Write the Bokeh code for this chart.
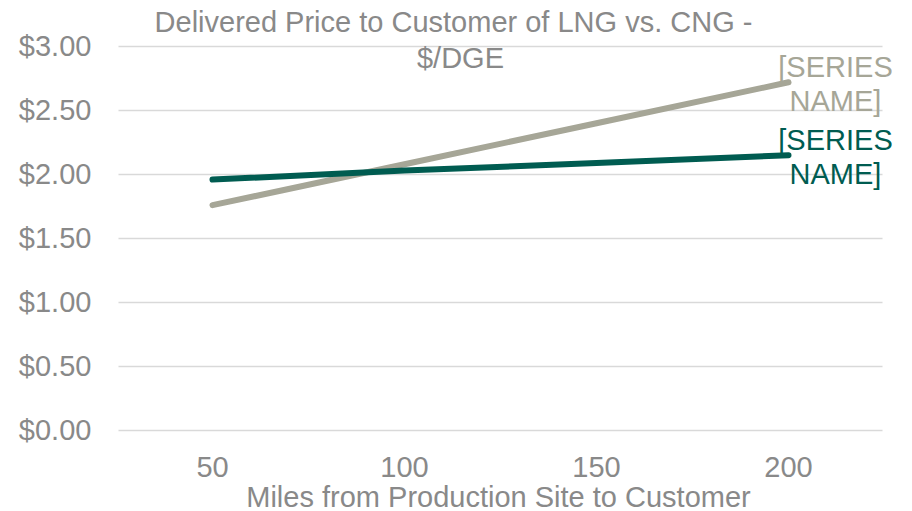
from bokeh.plotting import figure
from bokeh.models import Label, Range1d, NumeralTickFormatter, FixedTicker, LinearAxis, Grid
from bokeh.embed import file_html
from bokeh.resources import INLINE

# ---- data ----
miles = [50, 100, 150, 200]
series_green = [1.96, 2.03, 2.09, 2.15]
series_gray = [1.76, 2.08, 2.40, 2.72]
series_names = ["[SERIES\nNAME]", "[SERIES\nNAME]"]
y_ticks = [0, 0.5, 1.0, 1.5, 2.0, 2.5, 3.0]
x_ticks = [50, 100, 150, 200]
title_lines = ["Delivered Price to Customer of LNG vs. CNG -", "$/DGE"]
x_title = "Miles from Production Site to Customer"

# plot-area extent (category-like padding around the data)
x_lo, x_hi = 25.5, 224.5

FONT = "Liberation Sans"
FS = "29px"
TXT = "#898989"
GRAY = "#A6A697"
GREEN = "#005C51"

W, H = 912, 511
p = figure(width=W, height=H, output_backend="svg", toolbar_location=None,
           x_range=Range1d(-5.21, 232.29), y_range=Range1d(-0.633, 3.359),
           x_axis_location=None, y_axis_location=None,
           min_border=0, min_border_left=0, min_border_right=0,
           min_border_top=0, min_border_bottom=0)
p.outline_line_color = None
p.background_fill_color = "white"
p.border_fill_color = "white"
p.xgrid.visible = False
p.ygrid.visible = False

yaxis = LinearAxis(fixed_location=x_lo, ticker=FixedTicker(ticks=y_ticks),
                   formatter=NumeralTickFormatter(format="$0.00"))
xaxis = LinearAxis(fixed_location=0, ticker=FixedTicker(ticks=x_ticks))
for ax in (xaxis, yaxis):
    ax.axis_line_color = None
    ax.major_tick_line_color = None
    ax.minor_tick_line_color = None
    ax.major_label_text_font = FONT
    ax.major_label_text_font_size = FS
    ax.major_label_text_color = TXT
yaxis.major_label_standoff = 21
xaxis.major_label_standoff = 21
p.add_layout(yaxis, "left")
p.add_layout(xaxis, "below")

# horizontal gridlines limited to the plot area
if "cross_bounds" in Grid.properties():
    g = Grid(dimension=1, ticker=FixedTicker(ticks=y_ticks), cross_bounds=(x_lo, x_hi),
             grid_line_color="#D9D9D9", grid_line_width=1.3)
    p.add_layout(g)
else:
    p.segment(x0=[x_lo] * len(y_ticks), x1=[x_hi] * len(y_ticks), y0=y_ticks, y1=y_ticks,
              line_color="#D9D9D9", line_width=1.3)

p.line(miles, series_gray, line_color=GRAY, line_width=6, line_cap="round")
p.line(miles, series_green, line_color=GREEN, line_width=6, line_cap="round")

# series labels at line ends
for vals, col, name in ((series_gray, GRAY, series_names[0]), (series_green, GREEN, series_names[1])):
    l1, l2 = name.split("\n")
    p.add_layout(Label(x=miles[-1], y=vals[-1], x_offset=47, y_offset=15, text=l1,
                       text_align="center", text_baseline="middle",
                       text_font=FONT, text_font_size=FS, text_color=col))
    p.add_layout(Label(x=miles[-1], y=vals[-1], x_offset=47, y_offset=-19, text=l2,
                       text_align="center", text_baseline="middle",
                       text_font=FONT, text_font_size=FS, text_color=col))

# title (two lines, overlapping plot top)
p.add_layout(Label(x=453, y=H - 21, x_units="screen", y_units="screen", text=title_lines[0],
                   text_align="center", text_baseline="middle",
                   text_font=FONT, text_font_size=FS, text_color=TXT))
p.add_layout(Label(x=460, y=H - 57, x_units="screen", y_units="screen", text=title_lines[1],
                   text_align="center", text_baseline="middle",
                   text_font=FONT, text_font_size=FS, text_color=TXT))

# x axis title
p.add_layout(Label(x=498, y=H - 496, x_units="screen", y_units="screen", text=x_title,
                   text_align="center", text_baseline="middle",
                   text_font=FONT, text_font_size=FS, text_color=TXT))

open("out.html", "w").write(file_html(p, INLINE))
